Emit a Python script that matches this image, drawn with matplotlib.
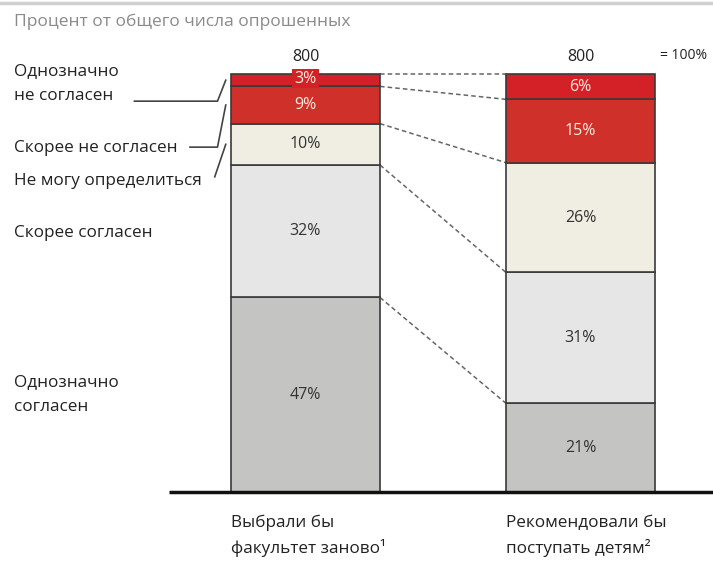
import numpy as np
import matplotlib.pyplot as plt

plt.rcParams['font.family'] = ['Open Sans', 'DejaVu Sans']

# Данные (снизу вверх)
segments = ['Однозначно\nсогласен', 'Скорее согласен', 'Не могу определиться',
            'Скорее не согласен', 'Однозначно\nне согласен']
bar1 = [47, 32, 10, 9, 3]
bar2 = [21, 31, 26, 15, 6]
totals = ['800', '800']
categories = [['Выбрали бы', 'факультет заново¹'], ['Рекомендовали бы', 'поступать детям²']]
colors = ['#c4c5c3', '#e6e6e6', '#f0eee2', '#d0302a', '#d42027']
text_colors = ['#333333', '#333333', '#333333', '#fdf0e0', '#fdf0e0']

fig = plt.figure(figsize=(7.13, 5.63), dpi=100)
ax = fig.add_axes([0, 0, 1, 1])
ax.set_xlim(-1.111, 1.482)
ax.set_ylim(-16.99, 117.7)
ax.axis('off')

fs = 12.3
width = 0.542
xs = [0, 1]
bounds = []
for x, vals in zip(xs, [bar1, bar2]):
    v = np.array(vals, dtype=float)
    v = v / v.sum() * 100
    bottoms = np.concatenate([[0], np.cumsum(v)[:-1]])
    bounds.append(np.concatenate([bottoms, [100]]))
    for i, (h, b) in enumerate(zip(v, bottoms)):
        ax.bar(x, h, width, bottom=b, color=colors[i], edgecolor='#3a3a3a',
               linewidth=1.2, zorder=2)
        lbl = f'{vals[i]}%'
        if i == 4 and x == 0:
            ax.text(x, b + h / 2 + 0.4, lbl, ha='center', va='center', fontsize=11.5,
                    color=text_colors[i], zorder=4,
                    bbox=dict(boxstyle='square,pad=0.12', fc=colors[i], ec='none'))
        else:
            ax.text(x, b + h / 2, lbl, ha='center', va='center', fontsize=11.5,
                    color=text_colors[i], zorder=4)

# пунктирные связи между столбцами
for y1, y2 in zip(bounds[0][1:], bounds[1][1:]):
    ax.plot([width / 2, 1 - width / 2], [y1, y2], ls=(0, (3, 2)), color='#666666',
            lw=1.1, zorder=1)

# итоги
for x, t in zip(xs, totals):
    ax.text(x, 104.0, t, ha='center', va='center', fontsize=11.5, color='#222222')
ax.text(1.29, 104.4, '= 100%', ha='left', va='center', fontsize=10, color='#222222')

# подписи категорий
for x, lines in zip(xs, categories):
    for k, line in enumerate(lines):
        ax.text(x - width / 2, -7.4 - 6.0 * k, line, ha='left', va='center', fontsize=fs,
                color='#222222')

# базовая линия
ax.plot([-0.495, 1.482], [0, 0], color='#111111', lw=2.5, zorder=3, solid_capstyle='butt')

# подписи сегментов слева
lx = -1.06
b1 = bounds[0]
mid = lambda i: (b1[i] + b1[i + 1]) / 2
def left_label(y, lines):
    for k, line in enumerate(lines):
        ax.text(lx, y - 6.0 * k, line, ha='left', va='center', fontsize=fs, color='#222222')

left_label(100.8, ['Однозначно', 'не согласен'])
left_label(82.2, ['Скорее не согласен'])
left_label(74.4, ['Не могу определиться'])
left_label(62.0, ['Скорее согласен'])
left_label(26.3, ['Однозначно', 'согласен'])

lc = '#444444'
ax.plot([-0.622, -0.32, -0.29], [93.5, 93.5, mid(4)], color=lc, lw=1.2)
ax.plot([-0.42, -0.32, -0.29], [82.5, 82.5, mid(3)], color=lc, lw=1.2)
ax.plot([-0.33, -0.29], [75.4, mid(2)], color=lc, lw=1.2)

# заголовок и верхняя линия
ax.text(-1.06, 112.4, 'Процент от общего числа опрошенных', ha='left', va='center',
        fontsize=12.5, color='#8a8a8a')
ax.plot([-1.111, 1.482], [117.0, 117.0], color='#d0d0d0', lw=2.5)

fig.savefig('out.png', dpi=100)
